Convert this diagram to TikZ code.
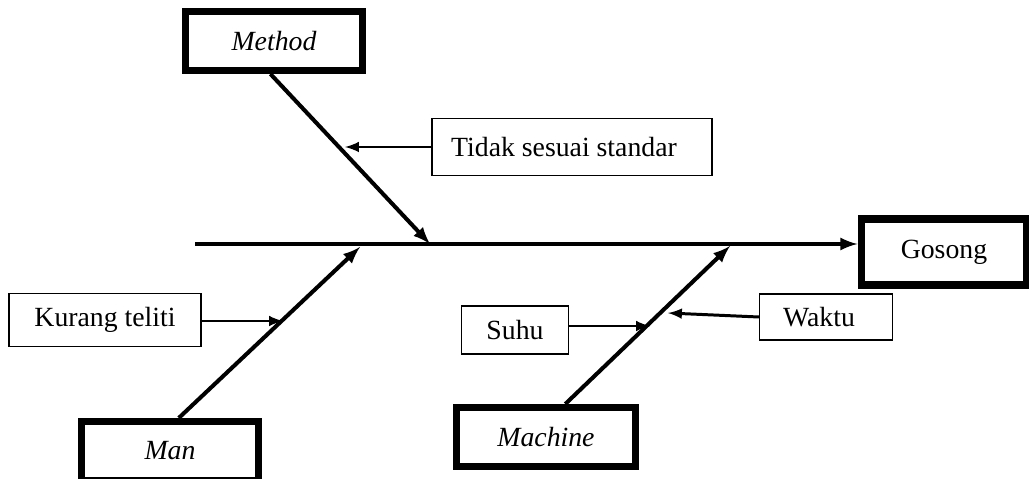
\documentclass[tikz,border=0pt]{standalone}
\usepackage{fontspec}
\setmainfont{Liberation Serif}
\usepackage{tikz}
\usetikzlibrary{arrows,positioning}

\begin{document}
\begin{tikzpicture}[x=0.02cm,y=-0.02cm,
	cause/.style={shape=rectangle,draw,line width=4pt,inner sep=0pt,minimum width=3.56cm,minimum height=1.18cm,font=\fontsize{15.8}{19}\selectfont\itshape},
	effect/.style={shape=rectangle,draw,line width=4pt,inner sep=0pt,minimum width=3.32cm,minimum height=1.32cm,font=\fontsize{15.8}{19}\selectfont},
	reason/.style={shape=rectangle,draw,line width=0.8pt,inner sep=0pt,font=\fontsize{15.8}{19}\selectfont},
	bone/.style={line width=2.3pt,-latex},
	twig/.style={line width=1.7pt,-latex}]
	\clip (0,0) rectangle (1029,479);
	\useasboundingbox (0,0) rectangle (1029,479);
	\path (274,41) node (method) [cause] {Method}
		  (170,451) node (man) [cause] {Man}
		  (546,437) node (machine) [cause,minimum width=3.58cm] {Machine}
		  (944,252) node (gosong) [effect] {Gosong}
		  (572,147) node (tidak) [reason,minimum width=5.6cm,minimum height=1.14cm] {Tidak sesuai standar\kern0.32cm}
		  (105,320) node (kurang) [reason,minimum width=3.84cm,minimum height=1.06cm] {Kurang teliti}
		  (515,330) node (suhu) [reason,minimum width=2.14cm,minimum height=0.96cm] {Suhu}
		  (826,317) node (waktu) [reason,minimum width=2.66cm,minimum height=0.92cm] {Waktu\kern0.28cm};
	% spine and bones
	\coordinate (tail) at (195,244);
	\coordinate (methodtip) at (430,244);
	\coordinate (mantip) at (360,247);
	\coordinate (machinetip) at (730,246);
	\draw[line width=2.3pt,-latex] (tail) -- (tail -| gosong.west);
	\draw[bone] ([xshift=-2]method.south) -- (methodtip);
	\draw[bone] ([xshift=5]man.north) -- (mantip);
	\draw[bone] ([xshift=11]machine.north) -- (machinetip);
	% sub causes
	\coordinate (tidaktip) at (345,147);
	\coordinate (kurangtip) at (283,321);
	\coordinate (suhutip) at (650,326);
	\coordinate (waktutip) at (668,313);
	\draw[twig] (tidak.west) -- (tidaktip);
	\draw[twig] (kurang.east |- kurangtip) -- (kurangtip);
	\draw[twig] (suhu.east |- suhutip) -- (suhutip);
	\draw[twig] (waktu.west) -- (waktutip);
\end{tikzpicture}
\end{document}
